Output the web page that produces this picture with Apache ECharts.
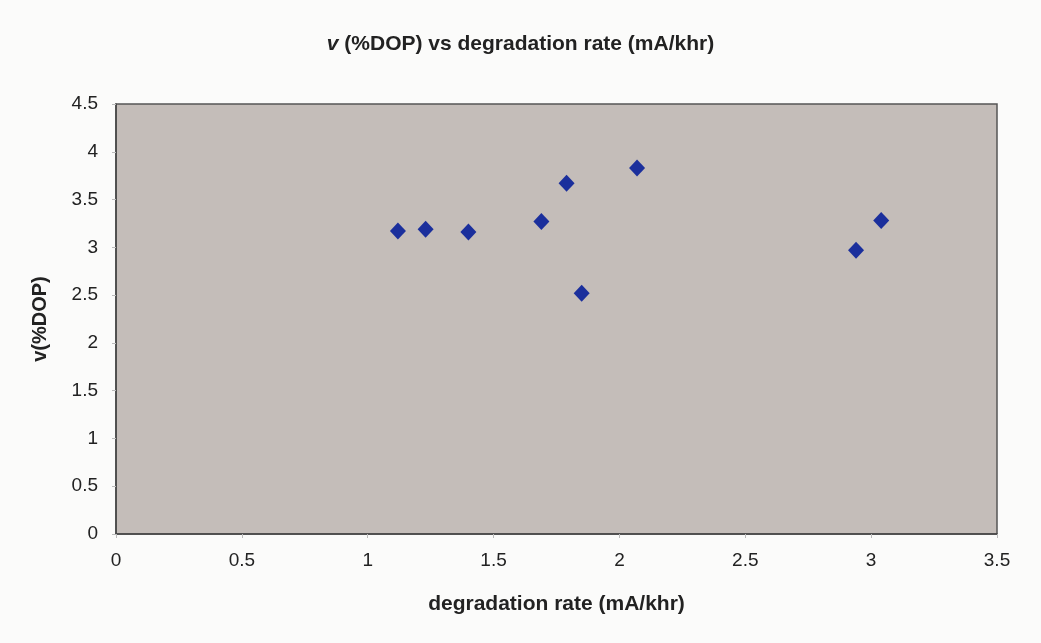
<!DOCTYPE html>
<html>
<head>
<meta charset="utf-8">
<style>
  html, body { margin: 0; padding: 0; background: #fbfbfa; }
  #chart { width: 1041px; height: 643px; }
</style>
<script src="https://cdn.jsdelivr.net/npm/echarts@6/dist/echarts.min.js"></script>
</head>
<body>
<div id="chart"></div>
<script>
const degradationRate = [1.12, 1.23, 1.40, 1.69, 1.79, 1.85, 2.07, 2.94, 3.04];
const vDOP = [3.17, 3.19, 3.16, 3.27, 3.67, 2.52, 3.83, 2.97, 3.28];
const titleText = '{i|v} (%DOP) vs degradation rate (mA/khr)';
const xName = 'degradation rate (mA/khr)';
const yName = 'v(%DOP)';

const points = degradationRate.map((x, i) => [x, vDOP[i]]);
const font = 'Liberation Sans, Arial, sans-serif';

const chart = echarts.init(document.getElementById('chart'), null, { renderer: 'canvas' });
chart.setOption({
  backgroundColor: '#fbfbfa',
  animation: false,
  title: {
    text: titleText,
    left: 'center',
    top: 29,
    textStyle: {
      fontFamily: font, fontSize: 21, fontWeight: 'bold', color: '#222',
      rich: { i: { fontFamily: font, fontSize: 21, fontWeight: 'bold', fontStyle: 'italic', color: '#222' } }
    }
  },
  grid: {
    left: 116, right: 44, top: 104, bottom: 109,
    show: true, backgroundColor: '#c4bdb9', borderColor: '#555', borderWidth: 1.5
  },
  xAxis: {
    type: 'value', min: 0, max: 3.5, interval: 0.5,
    name: xName, nameLocation: 'middle', nameGap: 60,
    nameTextStyle: { fontFamily: font, fontSize: 21, fontWeight: 'bold', color: '#222' },
    axisLine: { show: true, lineStyle: { color: '#444', width: 1.5 } },
    axisTick: { show: true, length: 4, lineStyle: { color: '#bbb' } },
    axisLabel: { fontFamily: font, fontSize: 19, color: '#222', margin: 17 },
    splitLine: { show: false }
  },
  yAxis: {
    type: 'value', min: 0, max: 4.5, interval: 0.5,
    name: yName, nameLocation: 'middle', nameGap: 66, nameRotate: 90,
    nameTextStyle: { fontFamily: font, fontSize: 20, fontWeight: 'bold', color: '#222' },
    axisLine: { show: true, lineStyle: { color: '#444', width: 1.5 } },
    axisTick: { show: true, length: 4, lineStyle: { color: '#bbb' } },
    axisLabel: { fontFamily: font, fontSize: 19, color: '#222', margin: 18 },
    splitLine: { show: false }
  },
  series: [{
    type: 'scatter',
    data: points,
    symbol: 'diamond',
    symbolSize: [16, 17],
    itemStyle: { color: '#1b2f9c', opacity: 1 }
  }]
});
</script>
</body>
</html>
